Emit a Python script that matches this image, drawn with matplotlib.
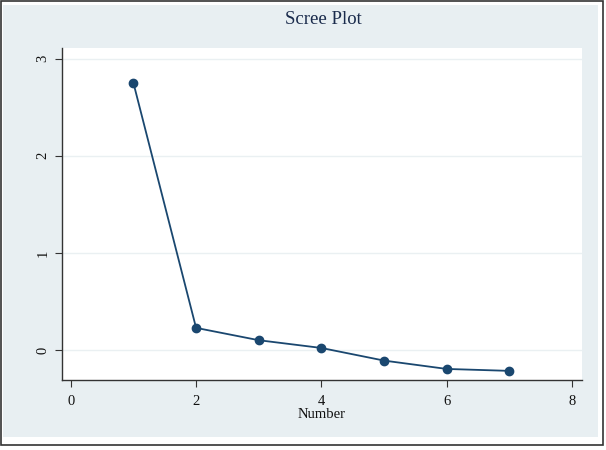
import numpy as np
import matplotlib.pyplot as plt
from matplotlib.patches import Rectangle

# eigenvalues
number = [1, 2, 3, 4, 5, 6, 7]
eigenvalue = [2.75, 0.227, 0.10, 0.02, -0.11, -0.196, -0.216]

xticks = [0, 2, 4, 6, 8]
yticks = [0, 1, 2, 3]

navy = '#1a476f'
bg = '#e8eff2'

plt.rcParams['font.family'] = ['Liberation Serif', 'DejaVu Serif']

fig = plt.figure(figsize=(6.06, 4.5), dpi=100)
fig.patch.set_facecolor('white')

# Stata-like graph region and outer frame
fig.patches.append(Rectangle((3 / 606, 1 - 437 / 450), 595 / 606, 432 / 450,
                             transform=fig.transFigure, facecolor=bg,
                             edgecolor='none', zorder=-2))
fig.patches.append(Rectangle((1 / 606, 1 - 445 / 450), 602 / 606, 444 / 450,
                             transform=fig.transFigure, facecolor='none',
                             edgecolor='#333333', linewidth=1.2, zorder=-1))

ax = fig.add_axes([62 / 606, 1 - 380 / 450, 520 / 606, 332 / 450])
ax.set_facecolor('white')

ax.plot(number, eigenvalue, color=navy, linewidth=1.3, marker='o',
        markersize=6, markerfacecolor=navy, markeredgecolor=navy, zorder=3)

ax.set_xlim(-0.14, 8.16)
ax.set_ylim(-0.31, 3.11)
ax.set_xticks(xticks)
ax.set_yticks(yticks)
ax.set_yticklabels([str(t) for t in yticks], rotation=90, va='center')
ax.grid(axis='y', color='#eaf0f2', linewidth=1.0)
ax.set_axisbelow(True)

for side in ['top', 'right']:
    ax.spines[side].set_visible(False)
for side in ['left', 'bottom']:
    ax.spines[side].set_color('#333333')
    ax.spines[side].set_linewidth(1.0)

ax.tick_params(direction='out', length=5, width=0.8, color='#333333',
               labelsize=10.5, labelcolor='#111111')
ax.tick_params(axis='x', pad=6)
ax.tick_params(axis='y', pad=4)

ax.set_xlabel('Number', fontsize=10.5, color='#111111', labelpad=0)
fig.text(0.533, 1 - 20 / 450, 'Scree Plot', ha='center', va='center',
         fontsize=13.5, color='#1a2b4c')

fig.savefig('out.png', dpi=100)
